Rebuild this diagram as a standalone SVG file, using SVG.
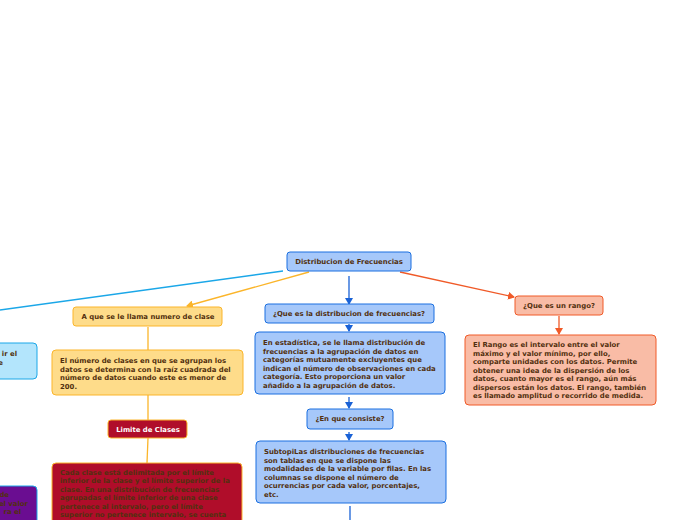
<svg xmlns="http://www.w3.org/2000/svg" width="696" height="520" viewBox="0 0 696 520">
<defs>
<marker id="aB" markerWidth="8" markerHeight="8" refX="6" refY="4" orient="auto" markerUnits="userSpaceOnUse"><path d="M0,0 L7,4 L0,8 Z" fill="#1a62d6"/></marker>
<marker id="aO" markerWidth="8" markerHeight="8" refX="6" refY="4" orient="auto" markerUnits="userSpaceOnUse"><path d="M0,0 L7,4 L0,8 Z" fill="#fbb52a"/></marker>
<marker id="aR" markerWidth="8" markerHeight="8" refX="6" refY="4" orient="auto" markerUnits="userSpaceOnUse"><path d="M0,0 L7,4 L0,8 Z" fill="#f05a28"/></marker>
</defs>
<style>
text{font-family:"DejaVu Sans",Verdana,sans-serif;font-weight:bold;font-size:6.9px;fill:#52300f}
.c{text-anchor:middle}
.e{text-anchor:end}
.blue{fill:#a6c8fa;stroke:#1a6fe0;stroke-width:1}
.yel{fill:#fedc8a;stroke:#fbb52a;stroke-width:1}
.crim{fill:#b00d2a;stroke:#fbb52a;stroke-width:1}
.sal{fill:#f9bca6;stroke:#f05a28;stroke-width:1}
.lb{fill:#b3e5fc;stroke:#1ba7e8;stroke-width:1}
.pur{fill:#6a0d91;stroke:#1ba7e8;stroke-width:1}
.w{fill:#ffffff}
.ln{fill:none;stroke-width:1.3}
</style>
<g id="connectors">
<line class="ln" x1="283" y1="271" x2="0" y2="310" stroke="#1ba7e8"/>
<line class="ln" x1="309" y1="272" x2="187" y2="306" stroke="#fbb52a" marker-end="url(#aO)"/>
<line class="ln" x1="349" y1="276" x2="349" y2="304" stroke="#1a62d6" marker-end="url(#aB)"/>
<line class="ln" x1="400" y1="272" x2="514" y2="297" stroke="#f05a28" marker-end="url(#aR)"/>
<line class="ln" x1="148" y1="327" x2="148" y2="350" stroke="#fbb52a"/>
<line class="ln" x1="148" y1="395" x2="148" y2="420" stroke="#fbb52a"/>
<line class="ln" x1="148" y1="438" x2="147" y2="463" stroke="#fbb52a"/>
<line class="ln" x1="349" y1="324" x2="349" y2="331" stroke="#1a62d6" marker-end="url(#aB)"/>
<line class="ln" x1="349" y1="397" x2="349" y2="408" stroke="#1a62d6" marker-end="url(#aB)"/>
<line class="ln" x1="349" y1="432" x2="349" y2="440" stroke="#1a62d6" marker-end="url(#aB)"/>
<line class="ln" x1="350" y1="506" x2="350" y2="520" stroke="#1a62d6"/>
<line class="ln" x1="559" y1="316" x2="559" y2="334" stroke="#f05a28" marker-end="url(#aR)"/>
</g>
<g id="root">
<rect class="blue" x="287" y="252" width="124" height="19" rx="3"/>
<text class="c" x="349" y="263.5">Distribucion de Frecuencias</text>
</g>
<g id="numero-clase">
<rect class="yel" x="73" y="307" width="149" height="19" rx="3"/>
<text class="c" x="148" y="318.5">A que se le llama numero de clase</text>
</g>
<g id="numero-clase-desc">
<rect class="yel" x="52" y="350" width="191" height="45" rx="4"/>
<text x="60" y="363">El número de clases en que se agrupan los</text>
<text x="60" y="371.5">datos se determina con la raíz cuadrada del</text>
<text x="60" y="380">número de datos cuando este es menor de</text>
<text x="60" y="388.5">200.</text>
</g>
<g id="limite">
<rect class="crim" x="108" y="420" width="79" height="18" rx="3"/>
<text class="c w" x="148" y="431.5">Limite de Clases</text>
</g>
<g id="limite-desc">
<rect class="crim" x="52" y="463" width="190" height="70" rx="4"/>
<text x="60" y="474.5">Cada clase está delimitada por el límite</text>
<text x="60" y="483">inferior de la clase y el límite superior de la</text>
<text x="60" y="491.5">clase. En una distribución de frecuencias</text>
<text x="60" y="500">agrupadas el límite inferior de una clase</text>
<text x="60" y="508.5">pertenece al intervalo, pero el límite</text>
<text x="60" y="517">superior no pertenece intervalo, se cuenta</text>
</g>
<g id="que-es">
<rect class="blue" x="265" y="304" width="169" height="19" rx="3"/>
<text class="c" x="349" y="315.5">¿Que es la distribucion de frecuencias?</text>
</g>
<g id="que-es-desc">
<rect class="blue" x="255" y="332" width="190" height="62" rx="4"/>
<text x="263" y="345">En estadística, se le llama distribución de</text>
<text x="263" y="353.5">frecuencias a la agrupación de datos en</text>
<text x="263" y="362">categorías mutuamente excluyentes que</text>
<text x="263" y="370.5">indican el número de observaciones en cada</text>
<text x="263" y="379">categoría. Esto proporciona un valor</text>
<text x="263" y="387.5">añadido a la agrupación de datos.</text>
</g>
<g id="consiste">
<rect class="blue" x="307" y="409" width="86" height="20" rx="3"/>
<text class="c" x="350" y="421">¿En que consiste?</text>
</g>
<g id="consiste-desc">
<rect class="blue" x="256" y="441" width="190" height="62" rx="4"/>
<text x="264" y="454">SubtopiLas distribuciones de frecuencias</text>
<text x="264" y="462.5">son tablas en que se dispone las</text>
<text x="264" y="471">modalidades de la variable por filas. En las</text>
<text x="264" y="479.5">columnas se dispone el número de</text>
<text x="264" y="488">ocurrencias por cada valor, porcentajes,</text>
<text x="264" y="496.5">etc.</text>
</g>
<g id="rango">
<rect class="sal" x="515" y="296" width="88" height="19" rx="3"/>
<text class="c" x="559" y="307.5">¿Que es un rango?</text>
</g>
<g id="rango-desc">
<rect class="sal" x="465" y="335" width="191" height="70" rx="4"/>
<text x="473" y="347">El Rango es el intervalo entre el valor</text>
<text x="473" y="355.5">máximo y el valor mínimo, por ello,</text>
<text x="473" y="364">comparte unidades con los datos. Permite</text>
<text x="473" y="372.5">obtener una idea de la dispersión de los</text>
<text x="473" y="381">datos, cuanto mayor es el rango, aún más</text>
<text x="473" y="389.5">dispersos están los datos. El rango, también</text>
<text x="473" y="398">es llamado amplitud o recorrido de medida.</text>
</g>
<g id="left-blue">
<rect class="lb" x="-160" y="343" width="197" height="36" rx="4"/>
<text class="e" x="17" y="356">ir el</text>
<text class="e" x="3" y="364.5">e</text>
</g>
<g id="left-purple">
<rect class="pur" x="-160" y="486" width="197" height="50" rx="4"/>
<text class="e" x="9" y="497">de</text>
<text class="e" x="28" y="505.5">el valor</text>
<text class="e" x="21" y="514">ra el</text>
</g>
</svg>
